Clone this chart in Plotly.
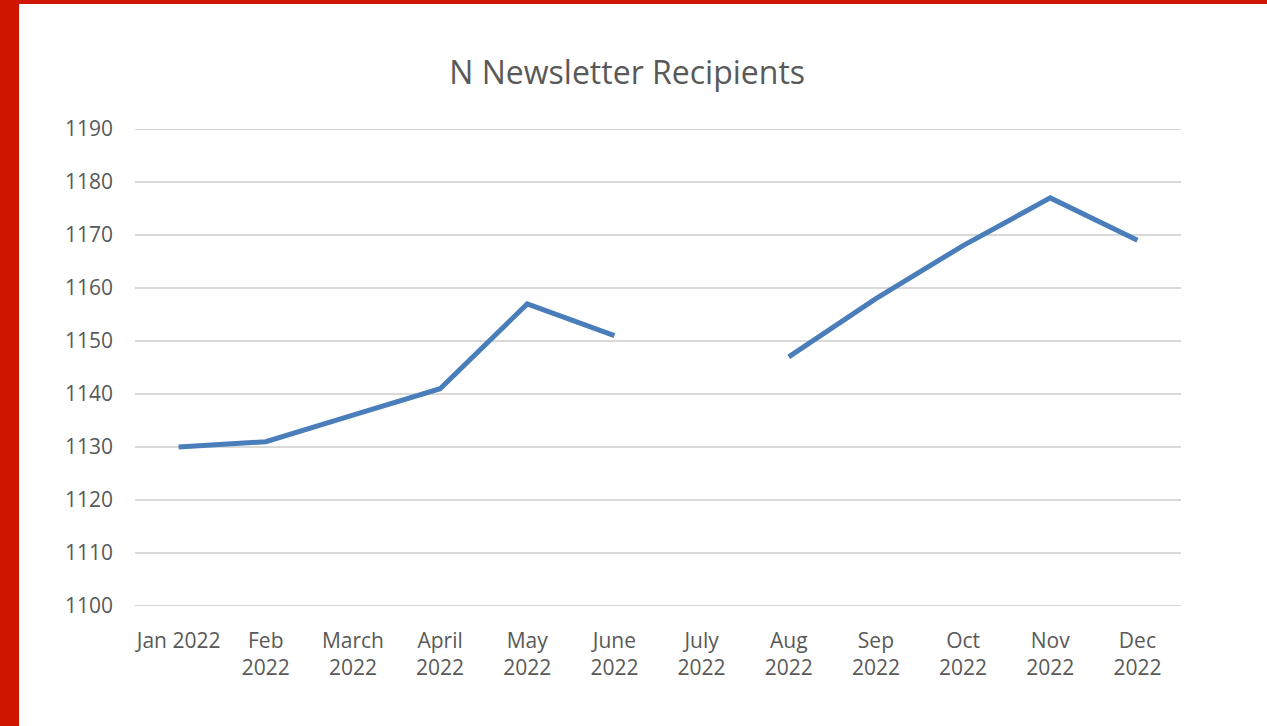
import plotly.graph_objects as go

categories = ["Jan 2022", "Feb<br>2022", "March<br>2022", "April<br>2022", "May<br>2022", "June<br>2022",
              "July<br>2022", "Aug<br>2022", "Sep<br>2022", "Oct<br>2022", "Nov<br>2022", "Dec<br>2022"]
recipients = [1130, 1131, 1136, 1141, 1157, 1151, None, 1147, 1158, 1168, 1177, 1169]
y_ticks = [1100, 1110, 1120, 1130, 1140, 1150, 1160, 1170, 1180, 1190]

fig = go.Figure()
fig.add_trace(go.Scatter(
    x=list(range(len(categories))), y=recipients, mode="lines",
    line=dict(color="#4a7ebb", width=5), connectgaps=False, hoverinfo="y"))

L, R, T, B = 135, 86, 129, 120
W, H = 1267, 726
pw, ph = W - L - R, H - T - B

def px_x(p):
    return (p - L) / pw

def px_y(p):
    return (H - B - p) / ph

fig.add_shape(type="rect", xref="paper", yref="paper",
              x0=px_x(19), x1=px_x(W + 5), y0=px_y(H + 5), y1=px_y(4),
              fillcolor="white", line=dict(width=0), layer="below")

# edge gridlines (plotly omits grid lines lying on the plot-area border)
for yv in (y_ticks[0], y_ticks[-1]):
    fig.add_shape(type="line", xref="paper", yref="y", x0=0, x1=1, y0=yv, y1=yv,
                  line=dict(color="#d4d4d4", width=2), layer="below")

fig.update_layout(
    width=W, height=H,
    margin=dict(l=L, r=R, t=T, b=B, pad=0),
    paper_bgcolor="#cf1500",
    plot_bgcolor="rgba(0,0,0,0)",
    showlegend=False,
    font=dict(family="Open Sans", color="#595959"),
    title=dict(text="N Newsletter Recipients", x=0.495, xanchor="center",
               y=1 - 73 / H, yanchor="middle",
               font=dict(size=32, color="#595959", family="Open Sans")),
    xaxis=dict(tickmode="array", tickvals=list(range(len(categories))), ticktext=categories,
               range=[-0.5, len(categories) - 0.5], showgrid=False, zeroline=False,
               showline=False, ticks="", tickfont=dict(size=21, color="#595959"),
               ticklabelstandoff=20, fixedrange=True),
    yaxis=dict(range=[1100, 1190], tickvals=y_ticks, showgrid=True, gridcolor="#d9d9d9",
               gridwidth=1.5, zeroline=False, showline=False, ticks="",
               tickfont=dict(size=21, color="#595959"), ticklabelstandoff=21, fixedrange=True),
)

fig.write_html("out.html", config={"displayModeBar": False},
               post_script="document.body.style.margin='0';document.body.style.overflow='hidden';")
